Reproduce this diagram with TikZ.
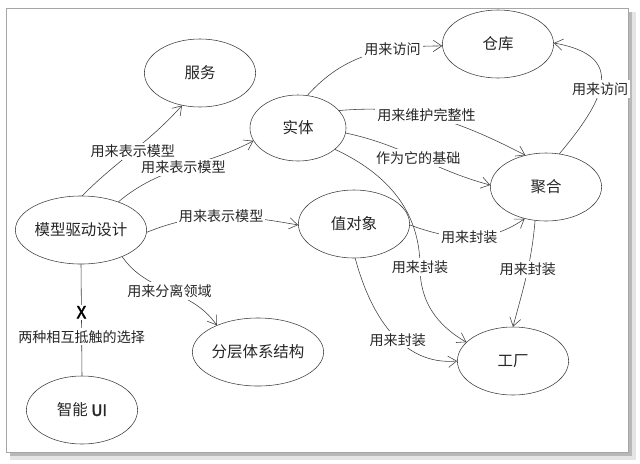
\documentclass[tikz,border=0pt]{standalone}
\usepackage{fontspec}
\setmainfont{Noto Sans CJK SC}[AutoFakeBold=2.5]
\usetikzlibrary{arrows.meta,shapes}

\begin{document}
\begin{tikzpicture}[x=0.025cm,y=0.025cm,semithick,
    ent/.style={ellipse,draw=black!75,thin,minimum width=2.78cm,minimum height=1.7cm,
      inner sep=0pt,font=\fontsize{11}{13}\selectfont,text=black!85},
    lbl/.style={fill=white,inner sep=1.5pt,font=\fontsize{10}{12}\selectfont,text=black!85},
    link/.style={draw=black!75,thin,-{Straight Barb[length=6pt,width=8pt]}},
    plain/.style={draw=black!75,thin}]
  \useasboundingbox (0,0) rectangle (640,-463);
  \fill[black!10] (10,-12) rectangle (636,-460);
  \fill[black!28] (10,-12) rectangle (632,-456);
  \filldraw[fill=white,draw=black!35] (6,-8) rectangle (628,-452);

  \path (200,-73) node[ent] (fw) {服务};
  \path (298,-128) node[ent,minimum width=2.4cm,minimum height=1.65cm] (st) {实体};
  \path (498,-44) node[ent] (ck) {仓库};
  \path (546,-187) node[ent] (jh) {聚合};
  \path (354,-224) node[ent] (zdx) {值对象};
  \path (81,-230) node[ent] (mdd) {模型驱动设计};
  \path (258,-352) node[ent] (fc) {分层体系结构};
  \path (82,-410) node[ent] (ui) {智能 {\bfseries UI}};
  \path (513,-361) node[ent] (gc) {工厂};
  \coordinate (bend) at (420,-267);

  \draw[link] (mdd.88) to[out=45,in=228] node[lbl,pos=0.5] {用来表示模型} (fw.241);
  \draw[link] (mdd.37) to[out=40,in=208] node[lbl,pos=0.5] {用来表示模型} (st.196);
  \draw[link] (mdd.-2) to[out=22,in=170] node[lbl,pos=0.5] {用来表示模型} (zdx.181);
  \draw[link] (mdd.-33) to[out=-55,in=125] node[lbl,pos=0.5] {用来分离领域} (fc.147);
  \draw[plain] (mdd.south) -- node[pos=0.43,fill=white,inner sep=1pt,font=\bfseries\large] {X}
    node[lbl,pos=0.65] {两种相互抵触的选择} (ui.north);

  \draw[link] (st.74) to[out=48,in=180] node[lbl,pos=0.68] {用来访问} (ck.182);
  \draw[link] (jh.68) .. controls +(50:70) and +(-10:75) .. node[lbl,pos=0.45] {用来访问} (ck.1);
  \draw[link] (st.23) to[out=5,in=153] node[lbl,pos=0.45] {用来维护完整性} (jh.123);
  \draw[link] (st.-6) to[out=-12,in=165] node[lbl,pos=0.5] {作为它的基础} (jh.178);
  \draw[link] (zdx.-1) to[out=-20,in=215] node[lbl,pos=0.5] {用来封装} (jh.236);
  \draw[link] (st.-30) to[out=-25,in=90] (bend) node[lbl] {用来封装}
    to[out=-90,in=150] (gc.158);
  \draw[link] (zdx.-88) to[out=-75,in=185] node[lbl,pos=0.57] {用来封装} (gc.180);
  \draw[link] (jh.252) to[out=-95,in=75] node[lbl,pos=0.45] {用来封装} (gc.90);
\end{tikzpicture}
\end{document}
